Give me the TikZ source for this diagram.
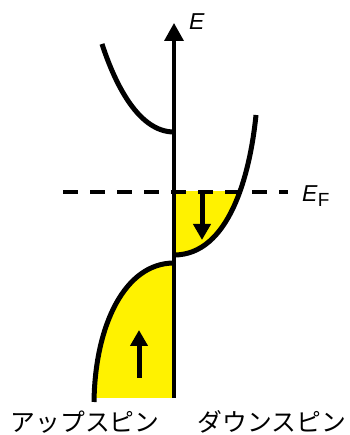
\documentclass[tikz,border=0pt]{standalone}
\usepackage{fontspec}
\setmainfont{Liberation Sans}
\newfontfamily\jpfont{Noto Sans CJK JP}
\usetikzlibrary{arrows.meta}
\begin{document}
\begin{tikzpicture}[x=1pt,y=1pt,
  band/.style={line width=5pt},
  axisline/.style={line width=3.5pt,-{Triangle[length=18pt,width=19pt]}},
  spinarrow/.style={line width=5pt,-{Triangle[length=16pt,width=17pt]}},
  fermiline/.style={line width=4pt,dash pattern=on 15pt off 12pt},
  lbl/.style={inner sep=0pt,font=\fontsize{23}{23}\selectfont},
  jplbl/.style={inner sep=0pt,anchor=base,font=\jpfont\fontsize{24.8}{25}\selectfont}]
\useasboundingbox (0,0) rectangle (349,435);
% yellow fills
\begin{scope}
  \clip (174,0) rectangle (349,243);
  \fill[yellow] (174,180) .. controls (229,180) and (250,260) .. (256,320) -- (174,320) -- cycle;
\end{scope}
\begin{scope}
  \clip (0,37) rectangle (174,435);
  \fill[yellow] (174,172) .. controls (125,172) and (95,110) .. (94,33) -- (174,33) -- cycle;
\end{scope}
% Fermi level
\coordinate (efl) at (63,243);
\coordinate (efr) at (288,243);
\draw[fermiline] (efl) -- (efr);
% energy axis
\coordinate (axbot) at (174,37);
\coordinate (axtop) at (174,412);
\draw[axisline] (axbot) -- (axtop);
% bands
\draw[band] (174,303) .. controls (139,303) and (115.5,349.6) .. (102,391);
\draw[band] (174,180) .. controls (229,180) and (250,260) .. (256,320);
\draw[band] (174,172) .. controls (125,172) and (95,110) .. (94,33);
% spin arrows
\coordinate (dnA) at (202,243);
\coordinate (dnB) at (202,195);
\draw[spinarrow] (dnA) -- (dnB);
\coordinate (upA) at (139,57);
\coordinate (upB) at (139,105);
\draw[spinarrow] (upA) -- (upB);
% labels
\node[lbl,anchor=base west] (E) at (189,405) {\itshape E};
\node[lbl,anchor=base west] (EF) at (302,233) {\itshape E\/\raisebox{-5pt}{\upshape\fontsize{19}{19}\selectfont F}};
\node[jplbl] (up) at (85,4) {アップスピン};
\node[jplbl] (down) at (272,4) {ダウンスピン};
\end{tikzpicture}
\end{document}
